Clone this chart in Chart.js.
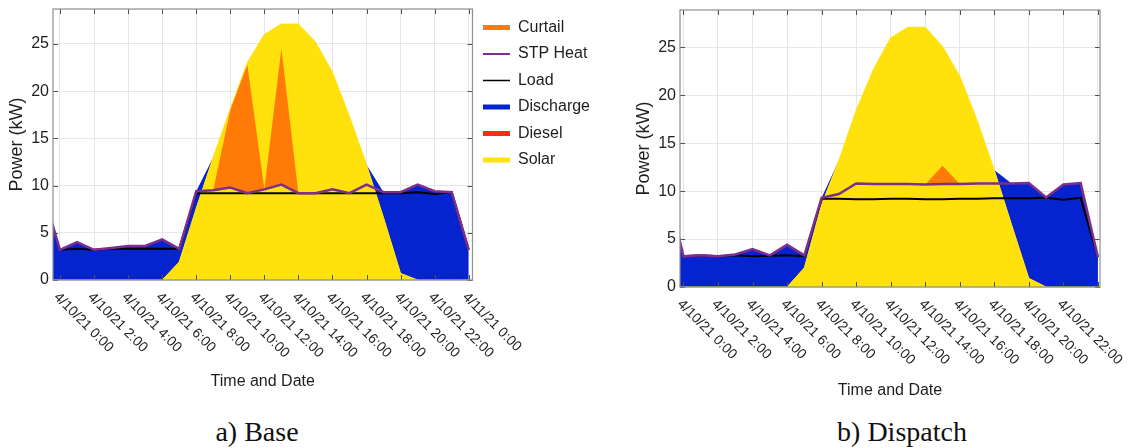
<!DOCTYPE html>
<html>
<head>
<meta charset="utf-8">
<script src="https://cdn.jsdelivr.net/npm/chart.js@4.4.1/dist/chart.umd.min.js"></script>
<style>
  html, body { margin: 0; padding: 0; background: #fff; }
  #page { position: relative; width: 1129px; height: 448px; overflow: hidden; }
  canvas { position: absolute; top: 0; }
  .caption {
    position: absolute; top: 418px; transform: translateX(-50%);
    font-family: "Liberation Serif", "Times New Roman", serif;
    font-size: 28px; line-height: 28px; color: #111; white-space: nowrap;
  }
</style>
</head>
<body>
<div id="page">
  <canvas id="chartBase" width="612" height="400" style="left:0"></canvas>
  <canvas id="chartDispatch" width="509" height="400" style="left:620px"></canvas>
  <div class="caption" style="left:257px">a) Base</div>
  <div class="caption" style="left:902px">b) Dispatch</div>
</div>
<script>
// hour of day (-1 = last hour of the previous day, cut off by the axis)
const hours = [-1, 0, 1, 2, 3, 4, 5, 6, 7, 8, 9, 10, 11, 12, 13, 14, 15, 16, 17, 18, 19, 20, 21, 22, 23, 24];

// x ticks and their labels
const tickHours = [0, 2, 4, 6, 8, 10, 12, 14, 16, 18, 20, 22, 24];
const tickLabelsBase = ['4/10/21 0:00', '4/10/21 2:00', '4/10/21 4:00', '4/10/21 6:00', '4/10/21 8:00',
  '4/10/21 10:00', '4/10/21 12:00', '4/10/21 14:00', '4/10/21 16:00', '4/10/21 18:00',
  '4/10/21 20:00', '4/10/21 22:00', '4/11/21 0:00'];
const tickLabelsDispatch = ['4/10/21 0:00', '4/10/21 2:00', '4/10/21 4:00', '4/10/21 6:00', '4/10/21 8:00',
  '4/10/21 10:00', '4/10/21 12:00', '4/10/21 14:00', '4/10/21 16:00', '4/10/21 18:00',
  '4/10/21 20:00', '4/10/21 22:00', ''];
const yTicks = [0, 5, 10, 15, 20, 25];

// a) Base (kW)
const solarBase     = [0, 0, 0, 0, 0, 0, 0, 0, 1.9, 7.6, 13.0, 18.1, 23.0, 26.0, 27.1, 27.1, 25.2, 22.0, 17.3, 12.2, 6.6, 0.7, 0, 0, 0, 0];
const dieselBase    = [0, 0, 0, 0, 0, 0, 0, 0, 0, 0, 0, 0, 0, 0, 0, 0, 0, 0, 0, 0, 0, 0, 0, 0, 0, 0];
const dischargeBase = [9.3, 3.2, 4.0, 3.2, 3.4, 3.6, 3.6, 4.3, 1.4, 1.8, 0, 0, 0, 0, 0, 0, 0, 0, 0, 0, 2.7, 8.6, 10.1, 9.4, 9.3, 3.2];
const loadBase      = [null, 3.2, 3.3, 3.2, 3.3, 3.3, 3.3, 3.3, 3.3, 9.2, 9.2, 9.2, 9.2, 9.2, 9.2, 9.2, 9.2, 9.2, 9.2, 9.2, 9.2, 9.2, 9.3, 9.1, 9.3, 3.2];
const stpBase       = [9.3, 3.2, 4.0, 3.2, 3.4, 3.6, 3.6, 4.3, 3.3, 9.4, 9.5, 9.8, 9.2, 9.6, 10.1, 9.2, 9.2, 9.6, 9.2, 10.1, 9.3, 9.3, 10.1, 9.4, 9.3, 3.2];
const curtailBase   = [0, 0, 0, 0, 0, 0, 0, 0, 0, 0, 0, 8.2, 13.6, 0, 14.4, 0, 0, 0, 0, 0, 0, 0, 0, 0, 0, 0];

// b) Dispatch (kW)
const solarDispatch     = [0, 0, 0, 0, 0, 0, 0, 0, 2.0, 8.6, 13.2, 18.4, 22.7, 26.0, 27.1, 27.1, 25.1, 22.0, 17.4, 12.2, 6.5, 0.9, 0, 0, 0, 0];
const dieselDispatch    = [0, 0, 0, 0, 0, 0, 0, 0, 0, 0, 0, 0, 0, 0, 0, 0, 0, 0, 0, 0, 0, 0, 0, 0, 0, 0];
const dischargeDispatch = [10.8, 3.2, 3.3, 3.2, 3.4, 3.95, 3.3, 4.4, 1.3, 0.7, 0, 0, 0, 0, 0, 0, 0, 0, 0, 0, 4.3, 9.95, 9.35, 10.7, 10.85, 3.1];
const loadDispatch      = [null, 3.2, 3.3, 3.2, 3.3, 3.2, 3.25, 3.3, 3.2, 9.2, 9.2, 9.15, 9.15, 9.2, 9.2, 9.15, 9.15, 9.2, 9.2, 9.25, 9.25, 9.25, 9.3, 9.1, 9.3, 3.1];
const stpDispatch       = [10.8, 3.2, 3.3, 3.2, 3.4, 3.95, 3.3, 4.4, 3.3, 9.3, 9.7, 10.8, 10.75, 10.75, 10.75, 10.7, 10.75, 10.75, 10.8, 10.8, 10.8, 10.85, 9.35, 10.7, 10.85, 3.1];
const curtailDispatch   = [0, 0, 0, 0, 0, 0, 0, 0, 0, 0, 0, 0, 0, 0, 0, 0, 1.9, 0, 0, 0, 0, 0, 0, 0, 0, 0];

const legendOrder = ['Curtail', 'STP Heat', 'Load', 'Discharge', 'Diesel', 'Solar'];

const FONT = '"Liberation Sans", Arial, Helvetica, sans-serif';
const TEXT = '#1e1e1e';
const COLORS = {
  solar: '#FFE10B', diesel: '#FF2B10', discharge: '#0623D0',
  curtail: '#FF7A06', stp: '#7E2F8E', load: '#000000'
};

// box round the plot + inward tick marks (MATLAB style)
const framePlugin = {
  id: 'frame',
  afterDatasetsDraw(chart) {
    const { ctx, chartArea: a, scales: { x, y } } = chart;
    ctx.save();
    ctx.strokeStyle = '#505050';
    ctx.lineWidth = 1;
    ctx.beginPath();
    x.ticks.forEach(t => {
      const px = Math.round(x.getPixelForValue(t.value)) + 0.5;
      ctx.moveTo(px, a.bottom); ctx.lineTo(px, a.bottom - 5);
      ctx.moveTo(px, a.top); ctx.lineTo(px, a.top + 5);
    });
    y.ticks.forEach(t => {
      const py = Math.round(y.getPixelForValue(t.value)) + 0.5;
      ctx.moveTo(a.left, py); ctx.lineTo(a.left + 5, py);
      ctx.moveTo(a.right, py); ctx.lineTo(a.right - 5, py);
    });
    ctx.stroke();
    ctx.strokeStyle = '#8e8e8e';
    ctx.lineWidth = 1.2;
    ctx.strokeRect(a.left, a.top, a.right - a.left, a.bottom - a.top);
    ctx.restore();
  }
};

// x labels rotated downward to the right
const diagLabelsPlugin = {
  id: 'diagLabels',
  afterDraw(chart, args, opts) {
    const { ctx, chartArea, scales: { x } } = chart;
    ctx.save();
    ctx.font = '14px ' + FONT;
    ctx.fillStyle = TEXT;
    ctx.textAlign = 'left';
    ctx.textBaseline = 'top';
    opts.labels.forEach((text, i) => {
      if (!text) return;
      const px = x.getPixelForValue(tickHours[i]);
      ctx.save();
      ctx.translate(px + 1, chartArea.bottom + 10);
      ctx.rotate(Math.PI / 4);
      ctx.fillText(text, 0, 0);
      ctx.restore();
    });
    ctx.restore();
  }
};

function makeChart(id, d, o) {
  const datasets = [
    { label: 'Load', data: d.load, stack: 'load', order: 2, borderColor: COLORS.load, borderWidth: 2, fill: false, legendWidth: 1.5 },
    { label: 'STP Heat', data: d.stp, stack: 'demand', order: 1, borderColor: COLORS.stp, borderWidth: 2.5, fill: false, legendWidth: 2 },
    { label: 'Curtail', data: d.curtail, stack: 'demand', order: 3, borderColor: COLORS.curtail, backgroundColor: COLORS.curtail, borderWidth: 0, fill: 1, legendWidth: 5 },
    { label: 'Solar', data: d.solar, stack: 'gen', order: 4, borderColor: COLORS.solar, backgroundColor: COLORS.solar, borderWidth: 1, fill: 'origin', legendWidth: 5 },
    { label: 'Diesel', data: d.diesel, stack: 'gen', order: 4, borderColor: COLORS.diesel, backgroundColor: COLORS.diesel, borderWidth: 0, fill: '-1', legendWidth: 5 },
    { label: 'Discharge', data: d.discharge, stack: 'gen', order: 4, borderColor: COLORS.discharge, backgroundColor: COLORS.discharge, borderWidth: 0, fill: '-1', legendWidth: 5 }
  ];

  return new Chart(document.getElementById(id), {
    type: 'line',
    data: { labels: hours, datasets: datasets },
    options: {
      responsive: false,
      animation: false,
      devicePixelRatio: 1,
      events: [],
      layout: { padding: o.padding },
      elements: { point: { radius: 0 }, line: { tension: 0 } },
      scales: {
        x: {
          type: 'linear', min: o.xMin, max: o.xMax,
          afterBuildTicks: s => { s.ticks = tickHours.map(v => ({ value: v })); },
          ticks: { display: false },
          grid: { color: '#e6e6e6', drawTicks: false },
          border: { display: false },
          title: { display: true, text: 'Time and Date', color: TEXT, font: { family: FONT, size: 16 }, padding: { top: 0, bottom: o.xTitlePad } },
          afterFit: s => { s.height = o.xHeight; s.paddingLeft = 0; s.paddingRight = 0; }
        },
        y: {
          stacked: true, min: 0, max: o.yMax,
          afterBuildTicks: s => { s.ticks = yTicks.map(v => ({ value: v })); },
          ticks: { color: TEXT, font: { family: FONT, size: 16 }, padding: 4 },
          grid: { color: '#e6e6e6', drawTicks: false },
          border: { display: false },
          title: { display: true, text: 'Power (kW)', color: TEXT, font: { family: FONT, size: 18 }, padding: { top: o.yTitlePad, bottom: 0 } },
          afterFit: s => { s.width = o.yWidth; s.paddingTop = 0; s.paddingBottom = 0; }
        }
      },
      plugins: {
        tooltip: { enabled: false },
        diagLabels: { labels: o.tickLabels },
        legend: {
          display: o.legend,
          position: 'right',
          align: 'start',
          labels: {
            usePointStyle: true,
            pointStyleWidth: 27,
            padding: 10.5,
            color: TEXT,
            font: { family: FONT, size: 16 },
            generateLabels: chart => chart.data.datasets.map((ds, i) => ({
              text: ds.label, datasetIndex: i, pointStyle: 'line',
              lineWidth: ds.legendWidth, strokeStyle: ds.borderColor, fillStyle: ds.borderColor,
              fontColor: TEXT, hidden: false
            })),
            sort: (a, b) => legendOrder.indexOf(a.text) - legendOrder.indexOf(b.text)
          }
        }
      }
    },
    plugins: [framePlugin, diagLabelsPlugin]
  });
}

makeChart('chartBase',
  { solar: solarBase, diesel: dieselBase, discharge: dischargeBase, load: loadBase, stp: stpBase, curtail: curtailBase },
  { xMin: -0.41, xMax: 24.22, yMax: 28.7, yWidth: 53, xHeight: 120, xTitlePad: 8.4, yTitlePad: 6.2,
    padding: { top: 9, right: 12, bottom: 0, left: 0 }, legend: true, tickLabels: tickLabelsBase });

makeChart('chartDispatch',
  { solar: solarDispatch, diesel: dieselDispatch, discharge: dischargeDispatch, load: loadDispatch, stp: stpDispatch, curtail: curtailDispatch },
  { xMin: -0.2, xMax: 24.12, yMax: 28.9, yWidth: 60, xHeight: 113, xTitlePad: 0, yTitlePad: 13.2,
    padding: { top: 10, right: 29, bottom: 0, left: 0 }, legend: false, tickLabels: tickLabelsDispatch });
</script>
</body>
</html>
